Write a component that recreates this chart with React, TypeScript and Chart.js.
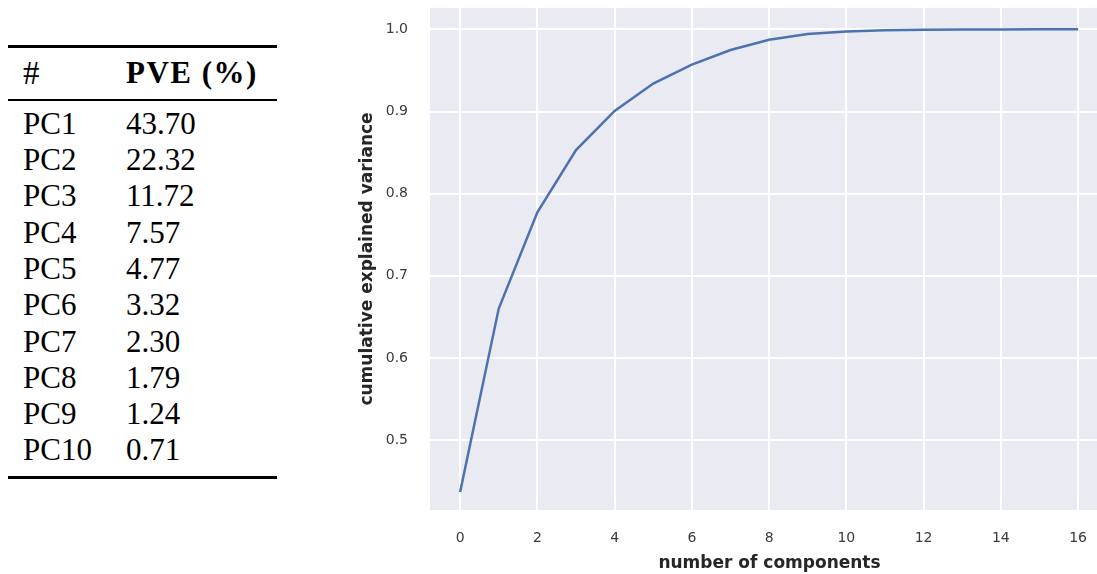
import React, { useEffect, useRef } from "react";
import { Chart, registerables } from "chart.js";

Chart.register(...registerables);

// ---- Data ----
const components = [0, 1, 2, 3, 4, 5, 6, 7, 8, 9, 10, 11, 12, 13, 14, 15, 16];
const cumulativeVariance = [
  0.437, 0.6602, 0.7774, 0.8531, 0.9008, 0.934, 0.957, 0.9749, 0.9873, 0.9944,
  0.9975, 0.9988, 0.9995, 0.9998, 0.9999, 1.0, 1.0,
];
const xTicks = [0, 2, 4, 6, 8, 10, 12, 14, 16];
const yTicks = [0.5, 0.6, 0.7, 0.8, 0.9, 1.0];
const pcLabels = ["PC1", "PC2", "PC3", "PC4", "PC5", "PC6", "PC7", "PC8", "PC9", "PC10"];
const pveValues = ["43.70", "22.32", "11.72", "7.57", "4.77", "3.32", "2.30", "1.79", "1.24", "0.71"];
const headerLabels = ["#", "PVE (%)"];
const xTitle = "number of components";
const yTitle = "cumulative explained variance";

const bgPlugin = {
  id: "plotBg",
  beforeDraw(chart: any) {
    const { ctx, chartArea } = chart;
    if (!chartArea) return;
    ctx.save();
    ctx.fillStyle = "#EAEAF2";
    ctx.fillRect(chartArea.left, chartArea.top, chartArea.right - chartArea.left, chartArea.bottom - chartArea.top);
    ctx.restore();
  },
};

function PveChart() {
  const ref = useRef<HTMLCanvasElement | null>(null);
  useEffect(() => {
    if (!ref.current) return;
    const chart = new Chart(ref.current, {
      type: "line",
      data: {
        datasets: [
          {
            data: components.map((c, i) => ({ x: c, y: cumulativeVariance[i] })),
            borderColor: "#4C72B0",
            borderWidth: 2.5,
            pointRadius: 0,
            tension: 0,
            fill: false,
          },
        ],
      },
      options: {
        animation: false,
        responsive: false,
        maintainAspectRatio: false,
        layout: { padding: { top: 8, right: 0, bottom: 0, left: 0 } },
        plugins: { legend: { display: false }, tooltip: { enabled: false } },
        scales: {
          x: {
            type: "linear",
            min: -0.78,
            max: 16.8,
            afterBuildTicks: (scale: any) => {
              scale.ticks = xTicks.map((v) => ({ value: v }));
            },
            afterFit: (scale: any) => {
              scale.height = 64;
              scale.paddingLeft = 0;
              scale.paddingRight = 0;
              scale.paddingTop = 0;
              scale.paddingBottom = 0;
            },
            grid: { color: "#FFFFFF", lineWidth: 2, drawTicks: false },
            border: { display: false },
            ticks: {
              padding: 20,
              color: "#3a3a3a",
              font: { family: "DejaVu Sans", size: 14 },
              callback: (v: any) => String(v),
            },
            title: {
              display: true,
              text: xTitle,
              color: "#262626",
              padding: { top: 0, bottom: 0 },
              font: { family: "DejaVu Sans", size: 17, weight: "bold" },
            },
          },
          y: {
            type: "linear",
            min: 0.415,
            max: 1.026,
            afterBuildTicks: (scale: any) => {
              scale.ticks = yTicks.map((v) => ({ value: v }));
            },
            afterFit: (scale: any) => {
              scale.width = 73;
              scale.paddingLeft = 0;
              scale.paddingRight = 0;
              scale.paddingTop = 0;
              scale.paddingBottom = 0;
            },
            grid: { color: "#FFFFFF", lineWidth: 2, drawTicks: false },
            border: { display: false },
            ticks: {
              padding: 22,
              color: "#3a3a3a",
              font: { family: "DejaVu Sans", size: 14 },
              callback: (v: any) => Number(v).toFixed(1),
            },
            title: {
              display: true,
              text: yTitle,
              color: "#262626",
              padding: { top: 0, bottom: 0 },
              font: { family: "DejaVu Sans", size: 17, weight: "bold" },
            },
          },
        },
      },
      plugins: [bgPlugin],
    });
    return () => chart.destroy();
  }, []);
  return (
    <canvas
      ref={ref}
      width={752}
      height={574}
      style={{ position: "absolute", left: 357, top: 0, width: 752, height: 574 }}
    />
  );
}

function PveTable() {
  const font = "'Liberation Serif', 'Times New Roman', serif";
  const rowTop0 = 105.7;
  const rowStep = 36.3;
  const textStyle: React.CSSProperties = {
    position: "absolute",
    fontFamily: font,
    fontSize: 31,
    lineHeight: "36.3px",
    color: "#000",
    whiteSpace: "nowrap",
  };
  return (
    <div style={{ position: "absolute", left: 0, top: 0, width: 300, height: 574 }}>
      <div style={{ position: "absolute", left: 8, top: 45, width: 269, height: 3, background: "#000" }} />
      <div style={{ ...textStyle, left: 23, top: 55, fontSize: 33 }}>{headerLabels[0]}</div>
      <div style={{ ...textStyle, left: 126, top: 55, fontWeight: "bold", letterSpacing: 1.5 }}>{headerLabels[1]}</div>
      <div style={{ position: "absolute", left: 8, top: 99, width: 269, height: 2, background: "#000" }} />
      {pcLabels.map((label, i) => (
        <React.Fragment key={label}>
          <div style={{ ...textStyle, left: 23, top: rowTop0 + rowStep * i }}>{label}</div>
          <div style={{ ...textStyle, left: 126, top: rowTop0 + rowStep * i }}>{pveValues[i]}</div>
        </React.Fragment>
      ))}
      <div style={{ position: "absolute", left: 8, top: 476, width: 269, height: 3, background: "#000" }} />
    </div>
  );
}

export default function App() {
  return (
    <div style={{ position: "absolute", left: 0, top: 0, width: 1097, height: 574, background: "#fff", overflow: "hidden" }}>
      <PveTable />
      <PveChart />
    </div>
  );
}
